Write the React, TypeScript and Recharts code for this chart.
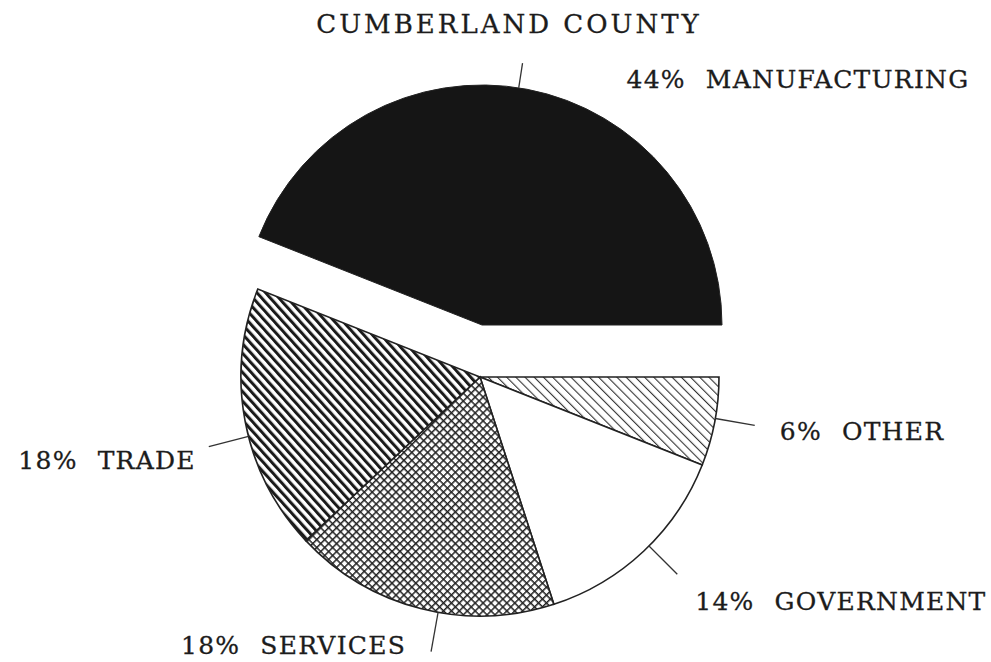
import { PieChart, Pie, Cell } from "recharts";

const chartTitle = "CUMBERLAND COUNTY";
const sectors = ["MANUFACTURING", "OTHER", "GOVERNMENT", "SERVICES", "TRADE"];
const shares = [44, 6, 14, 18, 18];
const explodedSector = "MANUFACTURING";

const fills: Record<string, string> = {
  MANUFACTURING: "#151515",
  OTHER: "url(#hatchOther)",
  GOVERNMENT: "#ffffff",
  SERVICES: "url(#hatchServices)",
  TRADE: "url(#hatchTrade)",
};

// leader: small angle nudge, length; text offset from the end of the leader
const labelPlacement: Record<
  string,
  { shift: number; len: number; dx: number; dy: number; anchor: "start" | "end" }
> = {
  MANUFACTURING: { shift: 2, len: 25, dx: 104, dy: 25, anchor: "start" },
  OTHER: { shift: 0.8, len: 40, dx: 25, dy: 15, anchor: "start" },
  GOVERNMENT: { shift: 1.8, len: 40, dx: 18, dy: 36, anchor: "start" },
  SERVICES: { shift: 4.3, len: 40, dx: -25, dy: 2, anchor: "end" },
  TRADE: { shift: 3.6, len: 41, dx: -13, dy: 22, anchor: "end" },
};

const rows = sectors.map((name, i) => ({ name, value: shares[i] }));
const explodedRows = rows.filter((r) => r.name === explodedSector);
const restRows = rows.filter((r) => r.name !== explodedSector);
const total = shares.reduce((a, b) => a + b, 0);
const explodedSweep = (360 * explodedRows.reduce((a, r) => a + r.value, 0)) / total;

const RAD = Math.PI / 180;
const FONT = "'DejaVu Serif', serif";

const renderLabel = (props: any) => {
  const { cx, cy, midAngle, outerRadius } = props;
  const name: string = props.name ?? props.payload?.name;
  const value: number = props.value ?? props.payload?.value;
  const p = labelPlacement[name];
  const a = midAngle + p.shift;
  const cos = Math.cos(-a * RAD);
  const sin = Math.sin(-a * RAD);
  const x1 = cx + outerRadius * cos;
  const y1 = cy + outerRadius * sin;
  const x2 = cx + (outerRadius + p.len) * cos;
  const y2 = cy + (outerRadius + p.len) * sin;
  return (
    <g key={name}>
      <line x1={x1} y1={y1} x2={x2} y2={y2} stroke="#333" strokeWidth={1.3} />
      <text
        x={x2 + p.dx}
        y={y2 + p.dy}
        textAnchor={p.anchor}
        fontFamily={FONT}
        fontSize={25}
        letterSpacing={1.25}
        fill="#1c1c1c"
        stroke="#1c1c1c"
        strokeWidth={0.3}
      >
        <tspan>{value}%</tspan>
        <tspan dx={20}>{name}</tspan>
      </text>
    </g>
  );
};

const App = () => {
  return (
    <div style={{ position: "absolute", left: 0, top: 0, background: "#fff" }}>
      <PieChart width={991} height={662} margin={{ top: 0, right: 0, bottom: 0, left: 0 }}>
        <defs>
          <pattern id="hatchTrade" patternUnits="userSpaceOnUse" width={6.4} height={6.4} patternTransform="rotate(-42)">
            <rect width={6.4} height={6.4} fill="#fff" />
            <rect width={3} height={6.4} fill="#1a1a1a" />
          </pattern>
          <pattern id="hatchOther" patternUnits="userSpaceOnUse" width={6.5} height={6.5} patternTransform="rotate(-45)">
            <rect width={6.5} height={6.5} fill="#fff" />
            <rect width={1.1} height={6.5} fill="#333" />
          </pattern>
          <pattern id="hatchServices" patternUnits="userSpaceOnUse" width={5.6} height={5.6} patternTransform="rotate(45)">
            <rect width={5.6} height={5.6} fill="#fff" />
            <rect width={1.5} height={5.6} fill="#222" />
            <rect width={5.6} height={1.5} fill="#222" />
          </pattern>
        </defs>
        <text
          x={509}
          y={33}
          textAnchor="middle"
          fontFamily={FONT}
          fontSize={26}
          letterSpacing={3}
          fill="#1c1c1c"
          stroke="#1c1c1c"
          strokeWidth={0.3}
        >
          {chartTitle}
        </text>
        <Pie
          data={explodedRows}
          dataKey="value"
          nameKey="name"
          cx={482}
          cy={325}
          outerRadius={240}
          startAngle={0}
          endAngle={explodedSweep}
          stroke="#222"
          strokeWidth={1}
          label={renderLabel}
          labelLine={false}
          isAnimationActive={false}
        >
          {explodedRows.map((r) => (
            <Cell key={r.name} fill={fills[r.name]} />
          ))}
        </Pie>
        <Pie
          data={restRows}
          dataKey="value"
          nameKey="name"
          cx={480}
          cy={377}
          outerRadius={239}
          startAngle={0}
          endAngle={explodedSweep - 360}
          stroke="#222"
          strokeWidth={1.6}
          label={renderLabel}
          labelLine={false}
          isAnimationActive={false}
        >
          {restRows.map((r) => (
            <Cell key={r.name} fill={fills[r.name]} />
          ))}
        </Pie>
      </PieChart>
    </div>
  );
};

export default App;
